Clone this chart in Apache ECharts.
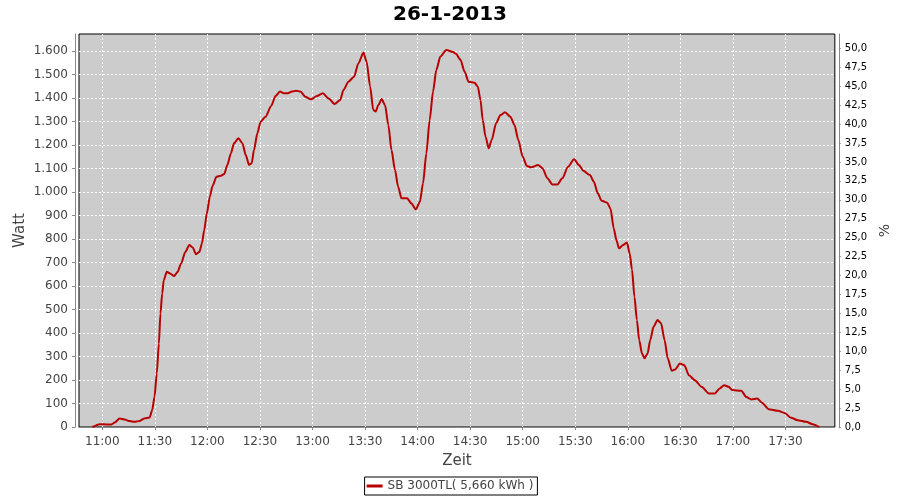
<!DOCTYPE html>
<html>
<head>
<meta charset="utf-8">
<script src="https://cdn.jsdelivr.net/npm/echarts@6/dist/echarts.min.js"></script>
<style>html,body{margin:0;padding:0;background:#fff}#c{width:900px;height:500px}</style>
</head>
<body>
<div id="c"></div>
<script>
// time in minutes since midnight
const times = [
  654.4, 658.6, 662.4, 665.2, 667.1, 669.9, 672.8, 675.6, 678.5, 681.3,
  684.1, 687.0, 688.5, 689.8, 691.1, 692.3, 693.2, 694.2, 695.1, 696.8,
  698.7, 701.0, 703.0, 705.0, 707.4, 709.7, 711.6, 713.5, 715.4, 716.9,
  718.2, 719.7, 721.4, 722.9, 725.2, 727.7, 729.6, 731.4, 733.4, 735.2,
  737.7, 740.0, 741.9, 743.8, 745.3, 746.6, 748.5, 750.4, 753.2, 756.4,
  758.9, 761.4, 763.6, 765.9, 768.3, 770.6, 773.1, 775.9, 779.1, 782.5,
  785.9, 789.2, 792.6, 795.8, 797.7, 800.5, 803.7, 806.2, 809.1, 810.9,
  812.9, 814.7, 816.1, 817.6, 819.5, 821.4, 823.3, 825.1, 827.1, 828.9,
  830.8, 834.0, 836.5, 839.0, 841.3, 843.1, 845.0, 846.9, 848.8, 850.7,
  853.0, 856.4, 860.2, 862.0, 864.5, 866.8, 869.1, 872.5, 874.4, 875.9,
  877.2, 878.8, 880.6, 882.3, 884.8, 887.3, 889.9, 893.0, 895.3, 897.5,
  900.0, 902.4, 905.0, 908.8, 911.3, 914.1, 917.0, 919.8, 922.6, 925.9,
  929.3, 932.1, 934.6, 938.4, 940.6, 942.9, 945.0, 948.2, 950.1, 952.0,
  953.5, 955.0, 957.3, 959.5, 961.1, 962.4, 963.8, 965.2, 966.5, 968.1,
  969.6, 971.3, 972.8, 974.7, 977.0, 979.0, 981.0, 982.8, 985.1, 987.0,
  989.8, 992.3, 994.9, 998.3, 1002.1, 1006.3, 1009.7, 1012.5, 1015.0, 1017.6,
  1019.6, 1024.8, 1027.7, 1030.5, 1033.9, 1036.6, 1040.4, 1045.7, 1049.5, 1053.2,
  1057.0, 1061.8, 1065.5, 1069.3
];
const watts = [
  0, 12, 11, 11, 19, 36, 32, 25, 22, 26,
  36, 40, 72, 128, 228, 355, 483, 568, 625, 660,
  653, 642, 660, 696, 745, 774, 764, 735, 745, 781,
  838, 909, 980, 1025, 1065, 1069, 1076, 1115, 1164, 1207,
  1228, 1207, 1157, 1115, 1122, 1178, 1249, 1299, 1320, 1366,
  1408, 1427, 1420, 1420, 1427, 1431, 1427, 1405, 1394, 1408,
  1420, 1398, 1374, 1391, 1434, 1469, 1490, 1547, 1593, 1554,
  1448, 1349, 1342, 1370, 1395, 1370, 1285, 1178, 1093, 1022,
  973, 973, 951, 926, 958, 1037, 1164, 1306, 1427, 1519,
  1576, 1604, 1595, 1587, 1562, 1512, 1469, 1465, 1448, 1391,
  1306, 1235, 1186, 1221, 1292, 1327, 1339, 1320, 1285, 1221,
  1150, 1110, 1105, 1115, 1101, 1058, 1032, 1032, 1058, 1107,
  1139, 1115, 1090, 1072, 1044, 994, 963, 954, 930, 845,
  795, 760, 774, 785, 738, 670, 554, 455, 370, 313,
  292, 313, 370, 426, 455, 441, 370, 292, 239, 245,
  270, 263, 220, 199, 171, 143, 143, 164, 178, 171,
  157, 154, 128, 117, 121, 103, 76, 69, 60, 39,
  29, 22, 12, 0
];
const xTicks = [660, 690, 720, 750, 780, 810, 840, 870, 900, 930, 960, 990, 1020, 1050];
const wattTicks = [0,100,200,300,400,500,600,700,800,900,1000,1100,1200,1300,1400,1500,1600];
const pctTicks = [0,2.5,5,7.5,10,12.5,15,17.5,20,22.5,25,27.5,30,32.5,35,37.5,40,42.5,45,47.5,50];
const seriesName = 'SB 3000TL( 5,660 kWh )';
const titleText = '26-1-2013';

const font = 'DejaVu Sans';
function fmtTime(v) {
  const h = Math.floor(v / 60), m = Math.round(v - h * 60);
  return h + ':' + (m < 10 ? '0' : '') + m;
}
function fmtWatt(v) {
  return String(Math.round(v)).replace(/\B(?=(\d{3})+(?!\d))/g, '.');
}
const chart = echarts.init(document.getElementById('c'), null, {renderer: 'canvas'});
chart.setOption({
  animation: false,
  backgroundColor: '#ffffff',
  title: {
    text: titleText, left: 'center', top: 0,
    textStyle: {fontFamily: font, fontSize: 20, fontWeight: 'bold', color: '#000'}
  },
  grid: {
    left: 79, top: 34, right: 61, bottom: 73,
    show: true, backgroundColor: '#cccccc', borderColor: '#000', borderWidth: 1
  },
  legend: {
    data: [{name: seriesName, icon: 'rect'}],
    left: 'center', top: 477,
    itemWidth: 16, itemHeight: 3, itemGap: 4,
    padding: [3, 4, 3, 2],
    borderColor: '#000', borderWidth: 1,
    textStyle: {fontFamily: font, fontSize: 12, color: '#444'}
  },
  xAxis: {
    type: 'value', min: 646.7, max: 1078.2,
    offset: 4,
    name: 'Zeit', nameLocation: 'middle', nameGap: 23,
    nameTextStyle: {fontFamily: font, fontSize: 15, color: '#444'},
    axisLine: {show: true, lineStyle: {color: '#888', width: 1}},
    axisTick: {show: true, length: 3, customValues: xTicks, lineStyle: {color: '#888'}},
    axisLabel: {customValues: xTicks, formatter: fmtTime, margin: 5,
      fontFamily: font, fontSize: 12, color: '#444'},
    splitLine: {show: true, lineStyle: {color: '#fff', type: [2, 2], width: 1}}
  },
  yAxis: [{
    type: 'value', min: 0, max: 1672, position: 'left',
    offset: 4,
    name: 'Watt', nameLocation: 'middle', nameGap: 47, nameMoveOverlap: false,
    nameTextStyle: {fontFamily: font, fontSize: 15, color: '#444'},
    axisLine: {show: true, lineStyle: {color: '#888', width: 1}},
    axisTick: {show: true, length: 3, customValues: wattTicks, lineStyle: {color: '#888'}},
    axisLabel: {customValues: wattTicks, formatter: fmtWatt, margin: 7,
      fontFamily: font, fontSize: 12, color: '#444'},
    splitLine: {show: true, lineStyle: {color: '#fff', type: [2, 2], width: 1}}
  }, {
    type: 'value', min: 0, max: 51.9, position: 'right',
    offset: 4,
    name: '%', nameLocation: 'middle', nameGap: 32, nameRotate: 90,
    nameTextStyle: {fontFamily: font, fontSize: 14, color: '#444'},
    axisLine: {show: true, lineStyle: {color: '#888', width: 1}},
    axisTick: {show: true, length: 2, customValues: pctTicks, lineStyle: {color: '#888'}},
    axisLabel: {customValues: pctTicks, formatter: v => v.toFixed(1).replace('.', ','), margin: 6,
      fontFamily: font, fontSize: 10, color: '#000'},
    splitLine: {show: false}
  }],
  series: [{
    name: seriesName, type: 'line', yAxisIndex: 0,
    data: times.map((t, i) => [t, watts[i]]),
    showSymbol: false, smooth: 0.25, smoothMonotone: 'x',
    lineStyle: {color: '#b80000', width: 2},
    itemStyle: {color: '#b80000'}
  }]
});
</script>
</body>
</html>
